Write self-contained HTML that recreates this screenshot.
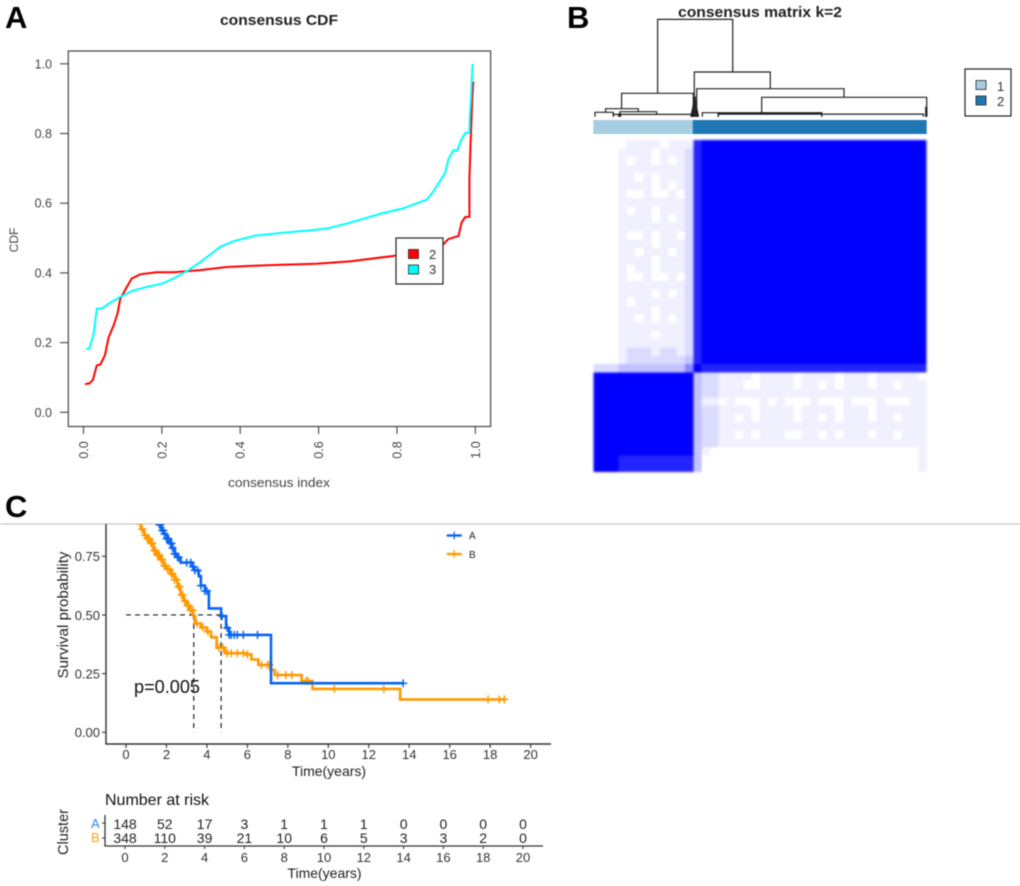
<!DOCTYPE html>
<html>
<head>
<meta charset="utf-8">
<title>Consensus clustering and survival figure</title>
<style>
html,body{margin:0;padding:0;background:#fff;width:1020px;height:886px;overflow:hidden}
svg{display:block;font-family:"Liberation Sans",sans-serif;filter:blur(0.45px)}
</style>
</head>
<body>
<svg id="fig" width="1020" height="886" viewBox="0 0 1020 886" xmlns="http://www.w3.org/2000/svg">
<defs>
<clipPath id="km-clip"><rect x="106" y="524" width="445" height="220"/></clipPath>
<filter id="heat-soften" x="-2%" y="-2%" width="104%" height="104%"><feGaussianBlur stdDeviation="1"/></filter>
</defs>
<rect width="1020" height="886" fill="#fff"/>

<text x="5" y="28" font-size="31" font-weight="bold" fill="#000">A</text>
<text x="567" y="28" font-size="31" font-weight="bold" fill="#000">B</text>
<text x="5" y="517" font-size="31" font-weight="bold" fill="#000">C</text>

<!-- Panel A -->
<g>
<text x="279" y="25" font-size="15" font-weight="bold" text-anchor="middle" textLength="118" lengthAdjust="spacingAndGlyphs" fill="#222">consensus CDF</text>
<g id="cdf-axes"></g>
<g id="cdf-lines"></g>
<rect x="68.3" y="51" width="422.3" height="375.5" fill="none" stroke="#444" stroke-width="1.2"/>
<text transform="translate(18,240) rotate(-90)" font-size="12" text-anchor="middle" fill="#444">CDF</text>
<text x="279" y="487" font-size="13" text-anchor="middle" textLength="102" lengthAdjust="spacingAndGlyphs" fill="#444">consensus index</text>
<g>
<rect x="396" y="238" width="47" height="46" fill="#fff" stroke="#222" stroke-width="1.2"/>
<rect x="408.5" y="249.5" width="10" height="9" fill="#ff0000" stroke="#222" stroke-width="0.8"/>
<text x="429" y="259" font-size="13" fill="#333">2</text>
<rect x="408.5" y="265" width="10" height="9" fill="#00ffff" stroke="#222" stroke-width="0.8"/>
<text x="429" y="274" font-size="13" fill="#333">3</text>
</g>
</g>

<!-- Panel B -->
<g>
<text x="760" y="17" font-size="15" font-weight="bold" text-anchor="middle" textLength="164" lengthAdjust="spacingAndGlyphs" fill="#222">consensus matrix k=2</text>
<g id="dendrogram"></g>
<rect x="593.3" y="120" width="99.4" height="14" fill="#a6cee3"/>
<rect x="692.7" y="120" width="234" height="14" fill="#1f78b4"/>
<g id="heatmap" filter="url(#heat-soften)"></g>
<g>
<rect x="965" y="69" width="46" height="47" fill="#fff" stroke="#222" stroke-width="1.2"/>
<rect x="976" y="80.5" width="10" height="9" fill="#a6cee3" stroke="#222" stroke-width="0.8"/>
<text x="997" y="91" font-size="13" fill="#333">1</text>
<rect x="976" y="96" width="10" height="9" fill="#1f78b4" stroke="#222" stroke-width="0.8"/>
<text x="997" y="106" font-size="13" fill="#333">2</text>
</g>
</g>

<!-- Panel C -->
<g>
<line x1="0" y1="524" x2="1020" y2="524" stroke="#bdbdbd" stroke-width="1"/>
<g id="km-axes"></g>
<g id="km-dashes"></g>
<g id="km-curves" clip-path="url(#km-clip)"></g>
<text transform="translate(68,615) rotate(-90)" font-size="15" text-anchor="middle" textLength="127" lengthAdjust="spacingAndGlyphs" fill="#222">Survival probability</text>
<text x="329" y="776" font-size="14" text-anchor="middle" fill="#222">Time(years)</text>
<text x="134" y="693" font-size="18" textLength="66" lengthAdjust="spacingAndGlyphs" fill="#111">p=0.005</text>
<g>
<line x1="446.7" y1="535.5" x2="461.7" y2="535.5" stroke="#0a66f0" stroke-width="2.4"/>
<line x1="454.2" y1="531.5" x2="454.2" y2="539.5" stroke="#0a66f0" stroke-width="1.2"/>
<text x="469" y="539" font-size="10" fill="#222">A</text>
<line x1="446.7" y1="554" x2="461.7" y2="554" stroke="#ff9900" stroke-width="2.4"/>
<line x1="454.2" y1="550" x2="454.2" y2="558" stroke="#ff9900" stroke-width="1.2"/>
<text x="469" y="558" font-size="10" fill="#222">B</text>
</g>
</g>

<!-- Risk table -->
<g>
<text x="105" y="805" font-size="16" fill="#111">Number at risk</text>
<text transform="translate(68,832) rotate(-90)" font-size="14.5" text-anchor="middle" fill="#222">Cluster</text>
<text x="91" y="828" font-size="13" fill="#2f86f5">A</text>
<text x="91" y="842" font-size="13" fill="#ff9f1a">B</text>
<g id="risk-axes"></g>
<g id="risk-values"></g>
<text x="324.5" y="878" font-size="14" text-anchor="middle" fill="#222">Time(years)</text>
</g>
</svg>

<script>
// ---- Panel A data ----
const cdfTicks = [0, 0.2, 0.4, 0.6, 0.8, 1.0];
const cdf2Index = [.004,.015,.024,.034,.043,.055,.064,.077,.087,.094,.106,.123,.145,.187,.23,.298,.366,.468,.595,.68,.80,.90,.914,.931,.957,.965,.974,.985,.985,.988,.992,.995];
const cdf2Value = [.081,.083,.093,.135,.137,.164,.215,.25,.284,.326,.35,.384,.396,.402,.402,.408,.417,.422,.426,.433,.45,.472,.477,.497,.506,.544,.56,.561,.668,.773,.897,.949];
const cdf3Index = [.007,.015,.026,.034,.047,.068,.094,.123,.162,.2,.23,.268,.298,.332,.349,.383,.438,.51,.587,.625,.68,.765,.816,.876,.893,.923,.931,.944,.954,.965,.974,.985,.986,.989,.993];
const cdf3Value = [.182,.183,.226,.297,.298,.314,.331,.348,.36,.369,.384,.408,.431,.46,.475,.491,.507,.515,.523,.528,.544,.572,.585,.61,.634,.687,.725,.752,.752,.784,.801,.803,.849,.902,1.0];

// ---- Panel B data: [left %, right %, height, left child height, right child height]
const dendroLinks = [
 [19.3,41.8,100,24,45.9],[30.3,53.1,45.9,0,28.8],[31,75.2,28.8,0,19.9],[50.5,100,19.9,3.4,0],
 [8.5,30,24,8.2,0],[3.7,13.5,8.2,4.5,5.1],[0.5,6,4.5,0,0],[8,19,5.1,0,2.7],[6,29.5,2.4,0,0],
 [32.7,37.5,4.1,0,0],[37.5,68.5,4.1,0,0],[37.5,68.5,3.6,0,0],[37.5,99,2.7,0,0],
 [30.2,30.6,20,0,0],[30.1,30.7,16,0,0],[30,30.8,13,0,0],[29.9,30.9,11,0,0],[29.8,31,9,0,0],
 [29.7,31.1,7.5,0,0],[29.6,31.2,6,0,0],[29.5,31.3,4.5,0,0],[29.4,31.4,3,0,0],[29.3,31.5,1.5,0,0],
 [7.6,8.2,2,0,0],[7.8,8.1,3,0,0],[99.7,100,9.6,0,0],[99.8,100,7,0,0]
];
// consensus values per sample block, 0-9 (spaces are only for reading)
const matrixRows = [
 "000011110111 8999999999 9999999999 99999999",
 "000111101112 8999999999 9999999999 99999999",
 "000101101012 8999999999 9999999999 99999999",
 "000111111112 8999999999 9999999999 99999999",
 "000110101112 8999999999 9999999999 99999999",
 "000111101012 8999999999 9999999999 99999999",
 "000100100102 8999999999 9999999999 99999999",
 "000111111112 8999999999 9999999999 99999999",
 "000101101112 8999999999 9999999999 99999999",
 "000111101012 8999999999 9999999999 99999999",
 "000111111112 8999999999 9999999999 99999999",
 "000100101102 8999999999 9999999999 99999999",
 "000111101112 8999999999 9999999999 99999999",
 "000110111012 8999999999 9999999999 99999999",
 "000111101112 8999999999 9999999999 99999999",
 "000101101112 8999999999 9999999999 99999999",
 "000100100102 8999999999 9999999999 99999999",
 "000111111112 8999999999 9999999999 99999999",
 "000111101012 8999999999 9999999999 99999999",
 "000101111112 8999999999 9999999999 99999999",
 "000111101112 8999999999 9999999999 99999999",
 "000110101012 8999999999 9999999999 99999999",
 "000111111112 8999999999 9999999999 99999999",
 "000111101112 8999999999 9999999999 99999999",
 "000111111112 8999999999 9999999999 99999999",
 "000122212212 8999999999 9999999999 99999999",
 "000122222223 8999999999 9999999999 99999999",
 "222333333335 9888888888 8888888888 88888888",
 "999999999999 3221111011 1101111011 10111110",
 "999999999999 3221110011 1101101011 10110111",
 "999999999999 3221111111 1111111111 11111111",
 "999999999999 3110100010 1000100010 00100011",
 "999999999999 3221111011 1101111011 10111111",
 "999999999999 3221101011 1101101011 10110111",
 "999999999999 3221111111 1111111111 11111111",
 "999999999999 3221101011 1001101011 10110111",
 "999999999999 3221111111 1111111111 11111111",
 "999999999999 3100000000 0000000000 00000001",
 "999888888888 3000000000 0000000000 00000001",
 "999888888888 3000000000 0000000000 00000001"
];

// ---- Panel C data ----
const kmTicks = [0, 2, 4, 6, 8, 10, 12, 14, 16, 18, 20];
const survTicks = [0, 0.25, 0.5, 0.75];
const kmTimesA = [0,.8,1.2,1.6,1.75,1.9,2.0,2.15,2.3,2.4,2.55,2.7,3.3,3.4,3.6,3.7,3.9,4.1,4.7,4.95,5.1,7.17,13.7];
const kmSurvA = [1,.96,.92,.885,.86,.845,.825,.805,.785,.76,.745,.723,.705,.69,.665,.625,.602,.528,.495,.445,.415,.209,.209];
const kmTimesB = [0,.2,.4,.6,.75,.9,1.05,1.2,1.35,1.5,1.7,1.85,2.0,2.2,2.4,2.55,2.7,2.85,3.0,3.15,3.33,3.41,3.7,3.99,4.2,4.48,4.89,5.96,6.2,6.54,7.14,7.35,8.68,9.22,13.55,18.75];
const kmSurvB = [1,.97,.935,.89,.865,.84,.825,.805,.775,.755,.735,.71,.695,.675,.65,.62,.585,.56,.54,.52,.495,.464,.447,.429,.405,.36,.337,.332,.31,.287,.265,.244,.219,.185,.14,.14];
const censorA = [1.65,1.7,1.8,1.85,1.9,2.0,2.05,2.1,2.2,2.25,2.3,2.4,2.45,2.55,2.6,3.0,3.2,3.3,3.4,3.55,3.7,3.9,4.0,4.75,5.0,5.1,5.2,5.35,5.5,5.8,6.5,13.7];
const censorB = [.7,.8,.95,1.05,1.1,1.15,1.25,1.3,1.4,1.45,1.55,1.6,1.65,1.75,1.8,1.9,1.95,2.05,2.15,2.25,2.3,2.4,2.5,2.6,2.65,2.75,2.8,2.9,3.05,3.1,3.2,3.3,3.5,3.8,4.05,4.6,4.8,5.0,5.2,5.5,5.8,6.0,6.7,7.0,7.1,7.5,7.9,8.2,8.9,9.0,10.3,12.75,17.9,18.45,18.7];
const medianTimes = [3.35, 4.7];
const medianSurv = 0.5;
const riskTimes = [0, 2, 4, 6, 8, 10, 12, 14, 16, 18, 20];
const riskA = [148, 52, 17, 3, 1, 1, 1, 0, 0, 0, 0];
const riskB = [348, 110, 39, 21, 10, 6, 5, 3, 3, 2, 0];

const NS = 'http://www.w3.org/2000/svg';
function mk(parent, tag, attrs, text) {
  const el = document.createElementNS(NS, tag);
  for (const k in attrs) el.setAttribute(k, attrs[k]);
  if (text !== undefined) el.textContent = text;
  parent.appendChild(el);
  return el;
}
const byId = id => document.getElementById(id);

// axis functions
const xA = v => 83.5 + v * 391.8;
const yA = v => 412.3 - v * 348.5;
const xD = p => 593.3 + p * 3.334;
const yD = h => 116.7 - h * 0.973;
const xM = c => 593.3 + c * (333.4 / 40);
const yM = r => 140 + r * (332 / 40);
const heatAlpha = v => Math.pow(v / 9, 1.3);
const xK = t => 126 + t * 20.23;
const yK = s => 732.3 - s * 234.7;
const xR = t => 125 + t * 19.9;

// Panel A axes
const cdfAxes = byId('cdf-axes');
cdfTicks.forEach(v => {
  const label = v.toFixed(1);
  let el = mk(cdfAxes, 'line', {x1: 60, x2: 68.3, y1: yA(v), y2: yA(v), stroke: '#444', 'stroke-width': 1.1});
  
  
  el = mk(cdfAxes, 'text', {x: 52, y: yA(v) + 4.5, 'font-size': 12.5, 'text-anchor': 'end', fill: '#444'}, label);
  
  
  el = mk(cdfAxes, 'line', {x1: xA(v), x2: xA(v), y1: 426.5, y2: 434, stroke: '#444', 'stroke-width': 1.1});
  
  
  el = mk(cdfAxes, 'text', {transform: 'translate(' + (xA(v) + 4.5) + ',450) rotate(-90)', 'font-size': 12.5, 'text-anchor': 'middle', fill: '#444'}, label);
  
  
});

// Panel A lines
function polyPoints(xs, ys) {
  return xs.map((x, i) => xA(x).toFixed(1) + ',' + yA(ys[i]).toFixed(1)).join(' ');
}
const cdfLines = byId('cdf-lines');
const line2 = mk(cdfLines, 'polyline', {points: polyPoints(cdf2Index, cdf2Value), fill: 'none', stroke: '#ff0000', 'stroke-width': 2});


const line3 = mk(cdfLines, 'polyline', {points: polyPoints(cdf3Index, cdf3Value), fill: 'none', stroke: '#00ffff', 'stroke-width': 2});



// Panel B dendrogram
const dendro = byId('dendrogram');
dendroLinks.forEach(l => {
  const d = 'M' + xD(l[0]).toFixed(1) + ' ' + yD(l[3]).toFixed(1) + 'V' + yD(l[2]).toFixed(1) + 'H' + xD(l[1]).toFixed(1) + 'V' + yD(l[4]).toFixed(1);
  const el = mk(dendro, 'path', {d: d, fill: 'none', stroke: '#222', 'stroke-width': 1.2});
  
  
});

// Panel B heatmap
const heat = byId('heatmap');
matrixRows.forEach((row, r) => {
  const vals = row.replace(/ /g, '').split('').map(Number);
  vals.forEach((v, c) => {
    const el = mk(heat, 'rect', {x: xM(c).toFixed(2), y: yM(r).toFixed(2), width: (xM(c + 1) - xM(c)).toFixed(2), height: (yM(r + 1) - yM(r)).toFixed(2), fill: '#0000ff', 'fill-opacity': heatAlpha(v).toFixed(3), 'shape-rendering': 'crispEdges'});
    
    
  });
});

// Panel C axes
const kmAxes = byId('km-axes');
let axisEl = mk(kmAxes, 'line', {x1: 106, x2: 106, y1: 524, y2: 744, stroke: '#333', 'stroke-width': 1.4});


axisEl = mk(kmAxes, 'line', {x1: 105.3, x2: 551, y1: 744, y2: 744, stroke: '#333', 'stroke-width': 1.4});


survTicks.forEach(v => {
  let el = mk(kmAxes, 'line', {x1: 102, x2: 106, y1: yK(v), y2: yK(v), stroke: '#333', 'stroke-width': 1.1});
  
  
  el = mk(kmAxes, 'text', {x: 100, y: yK(v) + 4.8, 'font-size': 13, 'text-anchor': 'end', fill: '#333'}, v.toFixed(2));
  
  
});
kmTicks.forEach(t => {
  let el = mk(kmAxes, 'line', {x1: xK(t), x2: xK(t), y1: 744, y2: 748, stroke: '#333', 'stroke-width': 1.1});
  
  
  el = mk(kmAxes, 'text', {x: xK(t), y: 759, 'font-size': 13, 'text-anchor': 'middle', fill: '#333'}, t);
  
  
});

// Panel C median dashes
const dashes = byId('km-dashes');
const medianH = mk(dashes, 'line', {x1: xK(0), x2: xK(medianTimes[1]), y1: yK(medianSurv), y2: yK(medianSurv), stroke: '#222', 'stroke-width': 1.2, 'stroke-dasharray': '5 4'});


medianTimes.forEach(t => {
  const el = mk(dashes, 'line', {x1: xK(t), x2: xK(t), y1: yK(medianSurv), y2: yK(0), stroke: '#222', 'stroke-width': 1.2, 'stroke-dasharray': '5 4'});
  
  
});

// Panel C curves
function stepPath(ts, ss) {
  let d = 'M' + xK(ts[0]).toFixed(1) + ' ' + yK(ss[0]).toFixed(1);
  for (let i = 1; i < ts.length; i++) {
    d += 'H' + xK(ts[i]).toFixed(1) + 'V' + yK(ss[i]).toFixed(1);
  }
  return d;
}
function survAt(ts, ss, t) {
  let s = ss[0];
  for (let i = 0; i < ts.length; i++) { if (ts[i] <= t) s = ss[i]; }
  return s;
}
const curves = byId('km-curves');
const curveB = mk(curves, 'path', {d: stepPath(kmTimesB, kmSurvB), fill: 'none', stroke: '#ff9900', 'stroke-width': 2.6});


censorB.forEach(t => {
  const s = survAt(kmTimesB, kmSurvB, t);
  const d = 'M' + (xK(t) - 4).toFixed(1) + ' ' + yK(s).toFixed(1) + 'h8M' + xK(t).toFixed(1) + ' ' + (yK(s) - 4).toFixed(1) + 'v8';
  const el = mk(curves, 'path', {d: d, fill: 'none', stroke: '#ff9900', 'stroke-width': 1.5});
  
  
});
const curveA = mk(curves, 'path', {d: stepPath(kmTimesA, kmSurvA), fill: 'none', stroke: '#0a66f0', 'stroke-width': 2.6});


censorA.forEach(t => {
  const s = survAt(kmTimesA, kmSurvA, t);
  const d = 'M' + (xK(t) - 4).toFixed(1) + ' ' + yK(s).toFixed(1) + 'h8M' + xK(t).toFixed(1) + ' ' + (yK(s) - 4).toFixed(1) + 'v8';
  const el = mk(curves, 'path', {d: d, fill: 'none', stroke: '#0a66f0', 'stroke-width': 1.5});
  
  
});

// Risk table
const riskAxes = byId('risk-axes');
axisEl = mk(riskAxes, 'line', {x1: 105, x2: 105, y1: 815, y2: 846, stroke: '#333', 'stroke-width': 1.3});


axisEl = mk(riskAxes, 'line', {x1: 104.4, x2: 543, y1: 846, y2: 846, stroke: '#333', 'stroke-width': 1.3});


axisEl = mk(riskAxes, 'line', {x1: 102, x2: 105, y1: 823, y2: 823, stroke: '#333', 'stroke-width': 1});


axisEl = mk(riskAxes, 'line', {x1: 102, x2: 105, y1: 838, y2: 838, stroke: '#333', 'stroke-width': 1});


const riskVals = byId('risk-values');
riskTimes.forEach((t, i) => {
  let el = mk(riskAxes, 'line', {x1: xR(t), x2: xR(t), y1: 846, y2: 849, stroke: '#333', 'stroke-width': 1});
  
  
  el = mk(riskAxes, 'text', {x: xR(t), y: 862, 'font-size': 13, 'text-anchor': 'middle', fill: '#333'}, t);
  
  
  el = mk(riskVals, 'text', {x: xR(t), y: 829, 'font-size': 14, 'text-anchor': 'middle', fill: '#222'}, riskA[i]);
  
  
  el = mk(riskVals, 'text', {x: xR(t), y: 843, 'font-size': 14, 'text-anchor': 'middle', fill: '#222'}, riskB[i]);
  
  
});
</script>
</body>
</html>
